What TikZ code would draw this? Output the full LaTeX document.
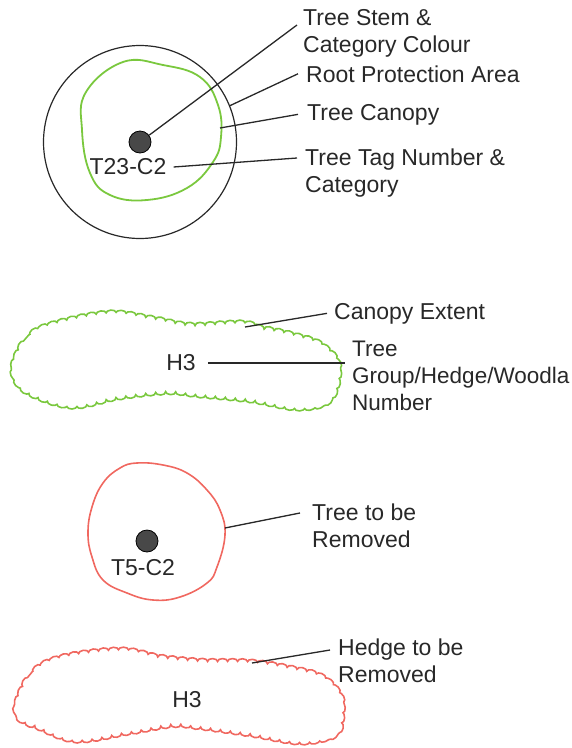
\documentclass[tikz,border=0pt]{standalone}
\usepackage{fontspec}
\setmainfont{Liberation Sans}
\usetikzlibrary{decorations.pathmorphing}
\definecolor{canopygreen}{RGB}{122,200,62}
\definecolor{removered}{RGB}{240,104,96}
\definecolor{inkgray}{RGB}{40,40,40}
\definecolor{stemgray}{RGB}{72,72,72}

\begin{document}
\begin{tikzpicture}[x=1pt, y=-1pt,
    lbl/.style={font=\fontsize{23}{27}\selectfont, text=inkgray, inner sep=0pt, align=left},
    tag/.style={font=\fontsize{23}{27}\selectfont, text=inkgray, inner ysep=1pt, inner xsep=7pt},
    stemdot/.style={circle, draw=black, line width=0.8pt, fill=stemgray, minimum size=22pt, inner sep=0pt},
    rpa/.style={circle, draw=inkgray, line width=1.2pt, minimum size=193pt, inner sep=0pt},
    leader/.style={draw=inkgray, line width=1.3pt},
    scallop/.style={decorate, decoration={bumps, segment length=20pt, amplitude=2.8pt}, line width=1.6pt}]

\useasboundingbox (0,0) rectangle (572,748);

% Retained tree
\node[rpa] (rpa1) at (140,142) {};
\draw[canopygreen, line width=1.8pt] plot[smooth cycle, tension=0.7] coordinates {
    (123,62) (163,65) (200,77) (218,105) (221,137) (213,162) (187,188) (147,200)
    (110,195) (90,173) (82,130) (86,92)};
\coordinate (canopy1) at (220,128);
\node[stemdot] (stem1) at (140,142) {};
\node[tag] (tag1) at (128,167) {T23-C2};

\node[lbl, anchor=north west] (lblStem) at (303,9) {Tree Stem \&\\Category Colour};
\node[lbl, anchor=base west] (lblRpa) at (306,82) {Root Protection Area};
\node[lbl, anchor=base west] (lblCanopy) at (307,120) {Tree Canopy};
\node[lbl, anchor=north west] (lblTag) at (305,149) {Tree Tag Number \&\\Category};

\draw[leader] (stem1) -- ([xshift=-6pt, yshift=-16pt]lblStem.north west);
\draw[leader] (rpa1.22) -- ([xshift=-8pt]lblRpa.west);
\draw[leader] (canopy1) -- ([xshift=-9pt]lblCanopy.west);
\draw[leader] (tag1.east) -- ([xshift=-8pt, yshift=-9pt]lblTag.north west);

% Group / hedge / woodland
\draw[canopygreen, scallop] plot[smooth cycle, tension=0.6] coordinates {
    (15,360) (30,335) (60,322) (110,313) (150,318) (190,325) (240,323) (262,328)
    (290,334) (320,344) (338,365) (331,398) (300,408) (250,400) (200,395) (167,392)
    (120,397) (73,406) (33,395) (16,380)};
\coordinate (hedge1) at (245,327);
\node[tag, inner xsep=12pt] (h3a) at (181,363) {H3};

\node[lbl, anchor=base west] (lblExtent) at (334,319) {Canopy Extent};
\node[lbl, anchor=north west, font=\fontsize{22.5}{27}\selectfont] (lblGroup) at (352,341) {Tree\\Group/Hedge/Woodla\\Number};

\draw[leader] (hedge1) -- ([xshift=-7pt]lblExtent.west);
\draw[leader] (h3a.east) -- ([xshift=-7pt, yshift=-22pt]lblGroup.north west);

% Tree to be removed
\draw[removered, line width=1.6pt] plot[smooth cycle, tension=0.7] coordinates {
    (137,463) (163,465) (187,473) (207,490) (220,510) (225,535) (217,567) (207,583)
    (180,597) (153,600) (127,593) (103,580) (92,557) (88,533) (92,507) (103,483)
    (120,468)};
\coordinate (remove1) at (225,528);
\node[stemdot] (stem2) at (147,541) {};
\node[tag] (tag2) at (143,568) {T5-C2};

\node[lbl, anchor=north west] (lblRemove) at (312,504) {Tree to be\\Removed};
\draw[leader] (remove1) -- ([xshift=-12pt, yshift=-9pt]lblRemove.north west);

% Hedge to be removed
\draw[removered, scallop] plot[smooth cycle, tension=0.6] coordinates {
    (18,700) (33,672) (63,657) (120,650) (160,657) (200,661) (250,662) (290,668)
    (320,676) (338,692) (342,710) (336,733) (302,742) (250,734) (200,727) (173,725)
    (130,732) (77,740) (40,728) (20,718)};
\coordinate (hedge2) at (252,663);
\node[tag] (h3b) at (187,700) {H3};

\node[lbl, anchor=north west] (lblHedge) at (338,639) {Hedge to be\\Removed};
\draw[leader] (hedge2) -- ([xshift=-8pt, yshift=-11pt]lblHedge.north west);
\end{tikzpicture}
\end{document}
